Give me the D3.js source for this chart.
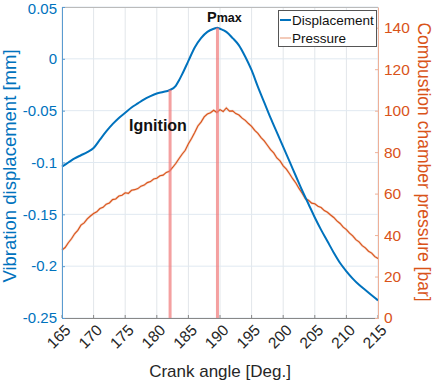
<!DOCTYPE html>
<html><head><meta charset="utf-8">
<script src="https://cdn.jsdelivr.net/npm/d3@7"></script>
<style>body{margin:0;background:#fff;} svg{display:block;font-family:"Liberation Sans",Arial,sans-serif;}</style>
</head><body><svg id="c" width="433" height="383"></svg>
<script>
// ---- data ----
const xTicks = [165,170,175,180,185,190,195,200,205,210,215];
const leftTicks = [0.05,0,-0.05,-0.1,-0.15,-0.2,-0.25];
const leftTickLabels = ["0.05","0","-0.05","-0.1","-0.15","-0.2","-0.25"];
const rightTicks = [0,20,40,60,80,100,120,140];

const dispAngle = [165,166,167,168,169,170,171,172,173,174,175,176,177,178,179,180,181,182,183,183.5,184,185,186,187,188,189,189.6,190,191,192,193,194,195,196,197,198,199,200,201,202,203,204,205,206,207,208,209,210,211,212,213,214,215];
const displacement = [-0.104,-0.100,-0.096,-0.093,-0.090,-0.086,-0.078,-0.070,-0.063,-0.057,-0.052,-0.047,-0.043,-0.039,-0.036,-0.0335,-0.032,-0.0303,-0.026,-0.021,-0.015,-0.002,0.011,0.020,0.026,0.029,0.030,0.029,0.026,0.020,0.013,0.002,-0.011,-0.027,-0.042,-0.057,-0.071,-0.085,-0.099,-0.113,-0.127,-0.140,-0.153,-0.165,-0.176,-0.187,-0.197,-0.205,-0.212,-0.218,-0.223,-0.228,-0.233];

// pressure sampled every 0.5 deg from 165 to 215
const pressureStart = 165, pressureStep = 0.5;
const pressure = [
 32.8,34.0,36.3,38.2,40.6,42.3,44.8,45.9,47.8,49.2,
 50.4,51.2,52.8,53.4,54.9,55.5,57.1,57.4,58.8,59.2,
 60.4,60.1,61.6,61.9,62.4,63.6,64.1,65.3,65.8,67.0,
 67.4,68.6,68.9,70.2,70.8,72.6,74.5,76.8,79.0,80.9,
 84.0,86.6,89.5,92.6,94.5,97.0,98.4,99.0,100.2,99.1,
 100.5,99.6,101.3,99.8,99.9,98.6,97.9,96.4,95.3,93.8,
 92.4,90.5,89.0,87.0,85.4,83.3,81.2,79.6,77.2,75.8,
 73.4,71.8,69.6,67.2,65.1,62.5,60.2,57.6,56.8,55.4,
 55.1,53.9,53.3,51.8,51.0,49.7,48.5,46.8,45.6,43.8,
 42.6,40.9,39.6,37.8,36.7,34.9,33.8,32.2,31.3,29.6,
 28.7];

const ignitionAngle = 182.1, pmaxAngle = 189.6;

// ---- layout ----
const svg = d3.select("#c");
const L = 62, R = 378, T = 7, B = 318;
const blue = "#0072BD", orange = "#D95319";
const x = d3.scaleLinear().domain([165,215]).range([L,R]);
const yL = d3.scaleLinear().domain([-0.25,0.05]).range([B,T]);
const yR = d3.scaleLinear().domain([0,150]).range([B,T]);

// grid
svg.append("g").selectAll("line").data(xTicks).join("line")
  .attr("x1",d=>x(d)).attr("x2",d=>x(d)).attr("y1",T).attr("y2",B)
  .attr("stroke","#e2e6ea").attr("stroke-width",1);
svg.append("g").selectAll("line").data(leftTicks).join("line")
  .attr("x1",L).attr("x2",R).attr("y1",d=>yL(d)).attr("y2",d=>yL(d))
  .attr("stroke","#e0e9f1").attr("stroke-width",1);

// pressure line
const pData = pressure.map((v,i)=>[pressureStart+i*pressureStep, v]);
const pLine = d3.line().x(d=>x(d[0])).y(d=>yR(d[1]));
svg.append("path").datum(pData)
  .attr("fill","none").attr("stroke","#e8a080").attr("stroke-width",2.4).attr("opacity",0.45)
  .attr("d", pLine);
svg.append("path").datum(pData)
  .attr("fill","none").attr("stroke",orange).attr("stroke-width",1.1)
  .attr("d", pLine);

// displacement line
const dData = dispAngle.map((a,i)=>[a, displacement[i]]);
const dLine = d3.line().x(d=>x(d[0])).y(d=>yL(d[1])).curve(d3.curveMonotoneX);
svg.append("path").datum(dData)
  .attr("fill","none").attr("stroke",blue).attr("stroke-width",2)
  .attr("d", dLine);

// vertical markers
const dispAt = a => { const i = d3.bisector(d=>d[0]).left(dData, a); const a0=dData[i-1], a1=dData[i]; const t=(a-a0[0])/(a1[0]-a0[0]); return a0[1]+t*(a1[1]-a0[1]); };
[ignitionAngle, pmaxAngle].forEach(a=>{
  svg.append("line").attr("x1",x(a)).attr("x2",x(a)).attr("y1",B).attr("y2",yL(dispAt(a)))
    .attr("stroke","#f07878").attr("stroke-opacity",0.7).attr("stroke-width",3);
});

// axes
const axisBottom = svg.append("g").attr("transform",`translate(0,${B})`)
  .call(d3.axisBottom(x).tickValues(xTicks).tickSize(0).tickFormat(d3.format("d")));
axisBottom.select(".domain").attr("stroke","#888");
axisBottom.selectAll(".tick text").attr("fill","#262626").attr("font-size",15.5)
  .attr("text-anchor","end").attr("dy",0)
  .attr("transform","translate(7,11) rotate(-45)");
svg.append("line").attr("x1",L).attr("x2",R).attr("y1",T+0.5).attr("y2",T+0.5).attr("stroke","#bbb");
svg.append("g").selectAll("line").data(xTicks).join("line")
  .attr("x1",d=>x(d)).attr("x2",d=>x(d)).attr("y1",B).attr("y2",B-3).attr("stroke","#888");

const axisLeft = svg.append("g").attr("transform",`translate(${L},0)`)
  .call(d3.axisLeft(yL).tickValues(leftTicks).tickSizeInner(-3).tickSizeOuter(0)
  .tickFormat((d,i)=>leftTickLabels[i]));
axisLeft.select(".domain").attr("stroke","#5a9bd0");
axisLeft.selectAll(".tick line").attr("stroke","#5a9bd0");
axisLeft.selectAll(".tick text").attr("fill",blue).attr("font-size",15).attr("x",-5);
axisLeft.selectAll(".tick text").filter(d=>d===0.05).attr("dy","0.42em");

const axisRight = svg.append("g").attr("transform",`translate(${R},0)`)
  .call(d3.axisRight(yR).tickValues(rightTicks).tickSizeInner(-3).tickSizeOuter(0));
axisRight.select(".domain").attr("stroke","#eeb098");
axisRight.selectAll(".tick line").attr("stroke","#eeb098");
axisRight.selectAll(".tick text").attr("fill",orange).attr("font-size",15.5).attr("x",6);
svg.selectAll(".domain").attr("stroke-width",1);

// axis titles
svg.append("text").attr("x",(L+R)/2).attr("y",377).attr("text-anchor","middle")
  .attr("font-size",17).attr("fill","#262626").text("Crank angle [Deg.]");
svg.append("text").attr("transform",`translate(16,166) rotate(-90)`).attr("text-anchor","middle")
  .attr("font-size",18.5).attr("fill",blue).text("Vibration displacement [mm]");
svg.append("text").attr("transform",`translate(418,162) rotate(90)`).attr("text-anchor","middle")
  .attr("font-size",17.5).attr("fill",orange).text("Combustion chamber pressure [bar]");

// annotations
svg.append("text").attr("x",158).attr("y",131).attr("text-anchor","middle")
  .attr("font-size",16).attr("font-weight","bold").attr("fill","#111").text("Ignition");
const pm = svg.append("text").attr("x",207).attr("y",22).attr("font-weight","bold").attr("fill","#111");
pm.append("tspan").attr("font-size",14.5).text("P");
pm.append("tspan").attr("font-size",12.5).text("max");

// legend
const lg = svg.append("g");
lg.append("rect").attr("x",278.5).attr("y",10.5).attr("width",98).attr("height",36)
  .attr("fill","#fff").attr("stroke","#555").attr("stroke-width",1);
const items = [{n:"Displacement",c:blue,w:2,y:20},{n:"Pressure",c:orange,w:1,y:38}];
items.forEach(it=>{
  lg.append("line").attr("x1",280).attr("x2",291).attr("y1",it.y).attr("y2",it.y)
    .attr("stroke",it.c).attr("stroke-width",it.w).attr("opacity",it.n==="Pressure"?0.6:1);
  lg.append("text").attr("x",292).attr("y",it.y+5).attr("font-size",13.5).attr("fill","#111").text(it.n);
});
</script></body></html>
